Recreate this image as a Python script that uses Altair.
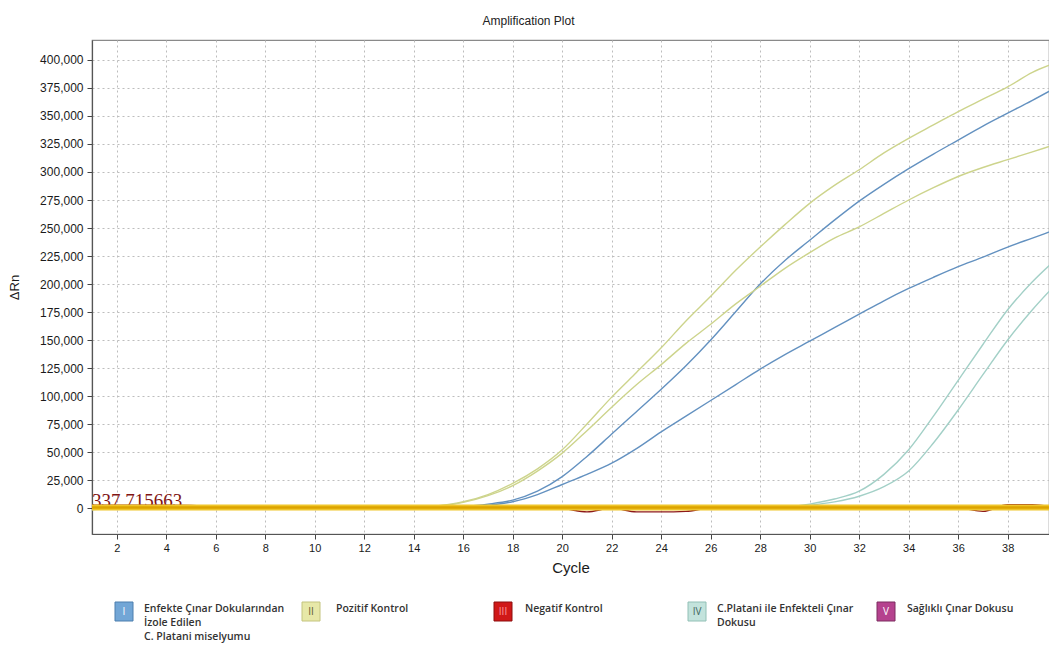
import altair as alt
import pandas as pd

# ---------------- data ----------------
cycles = list(range(1, 41))

# I  - Enfekte Çınar Dokularından İzole Edilen C. Platani miselyumu (two wells, blue)
blue_a = [-1000, 0, 0, 0, 0, 0, 0, 0, 0, 0, 0, 0, 0, 200, 600, 1500, 3500, 7000, 15000, 28000,
          46000, 66000, 86000, 106000, 127000, 150000, 175000, 200000, 221000, 239000,
          257000, 274000, 289000, 303000, 316000, 328500, 341000, 352500, 364000, 376000]
blue_b = [-800, 0, 0, 0, 0, 0, 0, 0, 0, 0, 0, 0, 0, 100, 400, 1000, 2500, 5600, 12000, 21000,
          30000, 40000, 53000, 68000, 82000, 96000, 110000, 124000, 137000, 149000,
          161000, 173000, 185000, 196000, 206000, 215500, 224000, 233000, 241000, 249000]
# II - Pozitif Kontrol (two wells, pale yellow)
yellow_a = [-500, 0, 0, 0, 0, 0, 0, 0, 0, 0, 0, 0, 200, 500, 2000, 5600, 12000, 22000, 35000, 52000,
            75000, 99000, 121000, 143000, 167000, 189000, 212000, 233000, 253000, 272000,
            288000, 302000, 317000, 330000, 342000, 354000, 365000, 376000, 389000, 398000]
yellow_b = [-500, 0, 0, 0, 0, 0, 0, 0, 0, 0, 0, 0, 150, 400, 1800, 5000, 11000, 20000, 33000, 49000,
            69000, 90000, 110000, 128000, 147000, 164000, 182000, 198000, 214000, 228000,
            241000, 251000, 263000, 275000, 286000, 296000, 304000, 311000, 318000, 325000]
# III - Negatif Kontrol (red)
red = [2500, 2500, 2500, 2500, 2200, 500, 0, 0, 0, 0, 0, 0, 0, 0, 0, 0, 0, 0, 0, -500,
       -3500, 0, -3500, -3500, -3000, 0, 0, 0, 0, 0,
       0, 0, 0, 0, 0, 0, -3000, 3000, 3000, 0]
# IV - C.Platani ile Enfekteli Çınar Dokusu (two wells, pale teal)
teal_a = [-1500, 0, 0, 0, 0, 0, 0, 0, 0, 0, 0, 0, 0, 0, 0, 0, 0, 0, 0, 0,
          0, 0, 0, 0, 0, 0, 0, 0, 800, 3500, 8000, 15000, 30000, 52000, 82000, 114000,
          146000, 177000, 202000, 223000]
teal_b = [-1200, 0, 0, 0, 0, 0, 0, 0, 0, 0, 0, 0, 0, 0, 0, 0, 0, 0, 0, 0,
          0, 0, 0, 0, 0, 0, 0, 0, 500, 2500, 5500, 10500, 19000, 33000, 58000, 87500,
          119000, 150000, 177000, 201000]
# V - Sağlıklı Çınar Dokusu (purple, flat)
purple = [0] * 40

threshold = 337.715663
threshold_label = "337,715663"

groups = ["I", "II", "III", "IV", "V"]
group_labels = ["Enfekte Çınar Dokularından\nİzole Edilen\nC. Platani miselyumu",
                "Pozitif Kontrol", "Negatif Kontrol",
                "C.Platani ile Enfekteli Çınar\nDokusu", "Sağlıklı Çınar Dokusu"]
x_ticks = list(range(2, 41, 2))
y_ticks = list(range(0, 400001, 25000))

# ---------------- styles / layout ----------------
line_colors = ["#6391c0", "#cdd48c", "#8e1a1a", "#a3d0c7", "#a0407a"]
swatch_fill = ["#72a6d6", "#e7e8a8", "#d01818", "#c3e3dc", "#b5428e"]
swatch_stroke = ["#4d7fae", "#c4c47e", "#8c0e0e", "#92c0b6", "#7d2c60"]
numeral_color = ["#ffffff", "#5a5a30", "#ff9a9a", "#3f6660", "#ffffff"]
swatch_cx = [32, 219, 411, 605, 794]       # px relative to plot origin
text_x = [52, 244, 433, 625, 815]
PLOT_W, PLOT_H = 957, 494

series = [
    ("V", purple), ("III", red), ("IV", teal_a), ("IV", teal_b),
    ("I", blue_a), ("I", blue_b), ("II", yellow_a), ("II", yellow_b),
]
rows = []
for i, (g, vals) in enumerate(series):
    for c, v in zip(cycles, vals):
        rows.append({"well": f"w{i}", "group": g, "order": i, "cycle": c, "value": v})
df = pd.DataFrame(rows)

xscale = alt.Scale(domain=[1, 39.67], nice=False, zero=False)
yscale = alt.Scale(domain=[-23214, 417857], nice=False, zero=False)

x_axis = alt.Axis(values=x_ticks, title="Cycle", grid=True, format="d",
                  titleY=33, titleBaseline="middle", titleFontSize=15,
                  titleFontWeight="normal", labelOverlap=False,
                  gridDash=[2, 3], labelPadding=3, labelFontSize=11)
y_axis = alt.Axis(values=y_ticks, format=",d", title="ΔRn", grid=True,
                  titleX=-78, titleY=PLOT_H / 2, titleAngle=-90,
                  titleAlign="center", titleBaseline="middle", titleFontSize=13,
                  titleFontWeight="normal", labelOverlap=False,
                  gridDash=[2, 3], labelPadding=4, labelFontSize=12)

X = alt.X("cycle:Q", scale=xscale, axis=x_axis)
Y = alt.Y("value:Q", scale=yscale, axis=y_axis)

lines = alt.Chart(df).mark_line(strokeWidth=1.4, clip=True, interpolate="monotone").encode(
    x=X, y=Y,
    color=alt.Color("group:N", scale=alt.Scale(domain=groups, range=line_colors), legend=None),
    detail="well:N",
    order="order:Q",
)

thr_df = pd.DataFrame({"cycle": [1], "value": [threshold], "label": [threshold_label]})
thr_text = alt.Chart(thr_df).mark_text(
    align="left", baseline="alphabetic", dx=0, dy=-1, font="Liberation Serif",
    fontSize=19, color="#7f1414"
).encode(x=X, y=Y, text="label:N")

thr_rule_outer = alt.Chart(thr_df).mark_rule(strokeWidth=6, color="#efc62a").encode(y=Y)
thr_rule_inner = alt.Chart(thr_df).mark_rule(strokeWidth=2.5, color="#dca300").encode(y=Y)

layers = [lines, thr_text, thr_rule_outer, thr_rule_inner]

# legend built from marks
for i, g in enumerate(groups):
    one = pd.DataFrame({"num": [g], "label": [group_labels[i]]})
    sq = alt.Chart(one).mark_rect(fill=swatch_fill[i], stroke=swatch_stroke[i], strokeWidth=1).encode(
        x=alt.value(swatch_cx[i] - 9), x2=alt.value(swatch_cx[i] + 9),
        y=alt.value(562), y2=alt.value(581))
    num = alt.Chart(one).mark_text(fontSize=10, font="Open Sans", color=numeral_color[i],
                                   align="center", baseline="middle").encode(
        x=alt.value(swatch_cx[i]), y=alt.value(571.5), text="num:N")
    lab = alt.Chart(one).mark_text(fontSize=10.5, font="Open Sans", fontWeight=600,
                                   color="#333333", align="left", baseline="top",
                                   lineBreak="\n", lineHeight=14).encode(
        x=alt.value(text_x[i]), y=alt.value(564), text="label:N")
    layers += [sq, num, lab]

chart = alt.layer(*layers).properties(
    width=PLOT_W, height=PLOT_H,
    title=alt.TitleParams("Amplification Plot", fontSize=12, font="Liberation Sans",
                          fontWeight="normal", color="#222222", offset=12, dx=-42,
                          anchor="middle", frame="group"),
    autosize=alt.AutoSizeParams(type="none"),
    padding={"left": 84, "top": 32, "right": 0, "bottom": 113},
).configure(background="#ffffff").configure_view(
    stroke="#8a8a8a", strokeWidth=1.2
).configure_axis(
    gridDash=[2, 3], gridColor="#bdbdbd", gridWidth=1,
    tickSize=5, tickColor="#444444", domainColor="#555555", domainWidth=1.2,
    labelFont="Liberation Sans", titleFont="Liberation Sans", labelColor="#1a1a1a",
    titleColor="#1a1a1a", titleFontWeight="normal",
)

chart.save("out.html", embed_options={"renderer": "svg", "actions": False})
